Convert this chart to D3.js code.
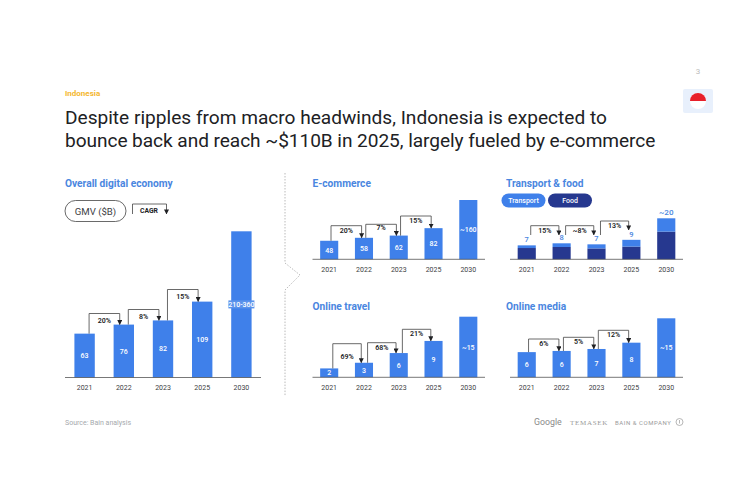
<!DOCTYPE html>
<html>
<head>
<meta charset="utf-8">
<script src="https://cdn.jsdelivr.net/npm/d3@7"></script>
<style>
body { margin: 0; background: #fff; }
text { font-family: Roboto, sans-serif; }
</style>
</head>
<body>
<div id="chart"></div>
<script>
// DATA
const years = ["2021", "2022", "2023", "2025", "2030"]

const overallValues = [63, 76, 82, 109, 210]
const overallLabels = ["63", "76", "82", "109", "210-360"]
const overallCagr = ["20%", "8%", "15%"]

const ecommerceValues = [50, 58, 64, 84, 160]
const ecommerceLabels = ["48", "58", "62", "82", "~160"]
const ecommerceCagr = ["20%", "7%", "15%"]

const foodValues = [5.5, 6, 5.3, 6.2, 13.5]
const transportValues = [1.3, 1.8, 2, 3.3, 6.5]
const transportFoodLabels = ["7", "8", "7", "9", "~20"]
const transportFoodCagr = ["15%", "~8%", "13%"]

const travelValues = [2.2, 3.6, 6, 9, 15]
const travelLabels = ["2", "3", "6", "9", "~15"]
const travelCagr = ["69%", "68%", "21%"]

const mediaValues = [6.4, 6.7, 7.2, 8.8, 15]
const mediaLabels = ["6", "6", "7", "8", "~15"]
const mediaCagr = ["6%", "5%", "12%"]

const blue = "#3f80ea"
const navy = "#26388f"
const titleBlue = "#4a86e0"
const ink = "#202124"

let svg = d3.select("#chart").append("svg")
    .attr("width", 750)
    .attr("height", 500)
    .style("display", "block")

function addText(x, y, str, size, fill, weight, anchor) {
    return svg.append("text")
        .attr("x", x)
        .attr("y", y)
        .attr("font-size", size)
        .attr("fill", fill)
        .attr("font-weight", weight || 400)
        .attr("text-anchor", anchor || "start")
        .text(str)
}

svg.append("defs").append("marker")
    .attr("id", "arrow")
    .attr("viewBox", "0 0 6 6")
    .attr("refX", 5.5)
    .attr("refY", 3)
    .attr("markerWidth", 5)
    .attr("markerHeight", 5)
    .attr("markerUnits", "userSpaceOnUse")
    .attr("orient", "auto")
    .append("path")
    .attr("d", "M0,0L6,3L0,6Z")
    .attr("fill", ink)

// HEADER
addText(65, 96, "Indonesia", 8, "#f4b72f", 700)
addText(65, 124.3, "Despite ripples from macro headwinds, Indonesia is expected to", 19.1, ink)
addText(65, 146.8, "bounce back and reach ~$110B in 2025, largely fueled by e-commerce", 19.1, ink)
    .attr("letter-spacing", -0.06)
addText(698, 74, "3", 8, "#bdbdbd", 400, "middle")

// flag
svg.append("rect").attr("x", 683).attr("y", 89).attr("width", 30).attr("height", 24)
    .attr("rx", 2).attr("fill", "#e8f0fc")
const flagArc = d3.arc().innerRadius(0).outerRadius(8)
svg.append("circle").attr("cx", 698).attr("cy", 101).attr("r", 8).attr("fill", "#fff")
svg.append("path").attr("transform", "translate(698,101)")
    .attr("d", flagArc({startAngle: -Math.PI / 2, endAngle: Math.PI / 2}))
    .attr("fill", "#e8202a")

// divider with chevron
svg.append("path")
    .attr("d", d3.line()([[285, 173], [285, 263], [300, 275], [285, 290], [285, 396]]))
    .attr("fill", "none")
    .attr("stroke", "#a8a8a8")
    .attr("stroke-width", 0.8)
    .attr("stroke-dasharray", "1.5 1.5")

// PANELS
function drawPanel(p) {
    let x = d3.scaleBand().domain(years)
        .range([p.left, p.right])
        .paddingInner(p.padIn)
        .paddingOuter(p.padOut)
    let y = d3.scaleLinear().domain([0, p.max]).range([p.base, p.top])
    let bw = x.bandwidth()

    addText(p.titleX, p.titleY, p.title, 10.2, titleBlue, 700)

    // bars, one layer for each series
    let stacked = d3.stack().keys(d3.range(p.series.length))(
        years.map((yr, i) => p.series.map(s => s[i])))

    stacked.forEach((layer, k) => {
        svg.selectAll(null).data(layer).enter()
            .append("rect")
            .attr("x", (d, i) => x(years[i]))
            .attr("width", bw)
            .attr("y", d => y(d[1]))
            .attr("height", d => y(d[0]) - y(d[1]))
            .attr("fill", p.colors[k])
    })

    // axis line and year labels
    let axis = svg.append("g")
        .attr("transform", "translate(0," + p.base + ")")
        .call(d3.axisBottom(x).tickSize(0).tickPadding(p.tickPad))
    axis.select(".domain").remove()
    axis.selectAll("text").attr("font-size", 7).attr("fill", "#3c4043")
        .style("font-family", "Roboto, sans-serif")
    svg.append("line")
        .attr("x1", p.left).attr("x2", p.right)
        .attr("y1", p.base).attr("y2", p.base)
        .attr("stroke", "#555").attr("stroke-width", 0.8)

    const totals = years.map((yr, i) => d3.sum(p.series, s => s[i]))

    // value labels
    p.labels.forEach((lab, i) => {
        let cx = x(years[i]) + bw / 2
        if (p.outside) {
            addText(cx, y(totals[i]) - 3, lab, lab.length > 1 ? 8 : 7.5, titleBlue, 500, "middle")
        } else {
            let cy = (y(0) + y(totals[i])) / 2
            if (p.labelBox && i == p.labelBox) {
                svg.append("rect").attr("x", cx - 13).attr("y", cy - 4)
                    .attr("width", 26).attr("height", 8).attr("fill", "#5b93ec")
            }
            addText(cx, cy + 2.5, lab, 7, "#fff", 500, "middle")
        }
    })

    // CAGR brackets
    p.cagr.forEach((lab, i) => {
        let from = x(years[i]) + bw * p.startAt
        let to = x(years[i + 1]) + bw * p.endAt
        let topY = p.base - p.lift[i]
        let startY = p.floatStart ? p.floatStart[i] : y(totals[i])
        let endY = p.floatEnd ? p.floatEnd[i] : y(totals[i + 1])
        svg.append("path")
            .attr("d", d3.line()([[from, startY], [from, topY], [to, topY], [to, endY]]))
            .attr("fill", "none")
            .attr("stroke", "#444")
            .attr("stroke-width", 0.8)
            .attr("marker-end", "url(#arrow)")
        addText((from + to) / 2, topY + p.labelDrop[i], lab, 7, ink, 600, "middle")
    })
}

drawPanel({title: "Overall digital economy", titleX: 65, titleY: 186.7, series: [overallValues], colors: [blue],
    labels: overallLabels, cagr: overallCagr, left: 65, right: 261, padIn: 0.48, padOut: 0.24,
    base: 377.5, top: 231.3, max: 210, tickPad: 8,
    startAt: 0.72, endAt: 0.3, lift: [64, 68, 88], labelDrop: [9, 9, 9], labelBox: 4})

drawPanel({title: "E-commerce", titleX: 312.5, titleY: 186.7, series: [ecommerceValues], colors: [blue],
    labels: ecommerceLabels, cagr: ecommerceCagr, left: 312.5, right: 485, padIn: 0.48, padOut: 0.22,
    base: 259.3, top: 200, max: 160, tickPad: 8,
    startAt: 0.6, endAt: 0.37, lift: [33.6, 35, 43.3], labelDrop: [7, 6, 7]})

drawPanel({title: "Transport & food", titleX: 506, titleY: 186.7, series: [foodValues, transportValues], colors: [navy, blue],
    labels: transportFoodLabels, cagr: transportFoodCagr, left: 510, right: 683, padIn: 0.48, padOut: 0.22,
    base: 259.3, top: 218.3, max: 20, tickPad: 8, outside: true,
    startAt: 0.72, endAt: 0.35, lift: [33.6, 33.6, 38.3], labelDrop: [7, 7, 7],
    floatStart: [235, 235, 235], floatEnd: [235, 235, 230]})

drawPanel({title: "Online travel", titleX: 312.5, titleY: 310, series: [travelValues], colors: [blue],
    labels: travelLabels, cagr: travelCagr, left: 312.5, right: 485, padIn: 0.48, padOut: 0.22,
    base: 377.3, top: 316.7, max: 15, tickPad: 8,
    startAt: 0.7, endAt: 0.35, lift: [33.6, 34.6, 48], labelDrop: [15, 7, 7]})

drawPanel({title: "Online media", titleX: 506, titleY: 310, series: [mediaValues], colors: [blue],
    labels: mediaLabels, cagr: mediaCagr, left: 510, right: 683, padIn: 0.48, padOut: 0.22,
    base: 377.3, top: 318.3, max: 15, tickPad: 8,
    startAt: 0.6, endAt: 0.35, lift: [38.3, 40, 47], labelDrop: [7, 7, 7]})

// GMV pill and CAGR key
svg.append("rect").attr("x", 65).attr("y", 200.5).attr("width", 61).attr("height", 21)
    .attr("rx", 10.5).attr("fill", "#fff").attr("stroke", "#444").attr("stroke-width", 0.8)
addText(95.5, 214.5, "GMV ($B)", 9.6, "#3c4043", 400, "middle")
svg.append("path")
    .attr("d", d3.line()([[132.5, 214], [132.5, 204], [166.5, 204], [166.5, 214]]))
    .attr("fill", "none").attr("stroke", "#444").attr("stroke-width", 0.8)
    .attr("marker-end", "url(#arrow)")
addText(140, 213, "CAGR", 6.8, ink, 700)

// transport & food legend
svg.append("rect").attr("x", 501.5).attr("y", 193.5).attr("width", 44).attr("height", 14)
    .attr("rx", 7).attr("fill", blue)
addText(523.5, 203.2, "Transport", 7, "#fff", 500, "middle")
svg.append("rect").attr("x", 548).attr("y", 193.5).attr("width", 44).attr("height", 14)
    .attr("rx", 7).attr("fill", navy)
addText(570, 203.2, "Food", 7, "#fff", 500, "middle")

// FOOTER
addText(65, 425, "Source: Bain analysis", 7, "#a5a9ad")
addText(534, 425, "Google", 8.8, "#8a8a8a")
svg.append("text").attr("x", 570).attr("y", 425).attr("font-size", 7).attr("fill", "#9a9a9a")
    .attr("letter-spacing", 0.7).style("font-family", "'Liberation Serif', serif").text("TEMASEK")
addText(615, 425, "BAIN & COMPANY", 6, "#9a9a9a").attr("letter-spacing", 0.55)
svg.append("circle").attr("cx", 679.5).attr("cy", 422).attr("r", 3.5)
    .attr("fill", "none").attr("stroke", "#9a9a9a").attr("stroke-width", 0.7)
svg.append("line").attr("x1", 679.5).attr("x2", 679.5).attr("y1", 420).attr("y2", 423.5)
    .attr("stroke", "#9a9a9a").attr("stroke-width", 0.7)
</script>
</body>
</html>
